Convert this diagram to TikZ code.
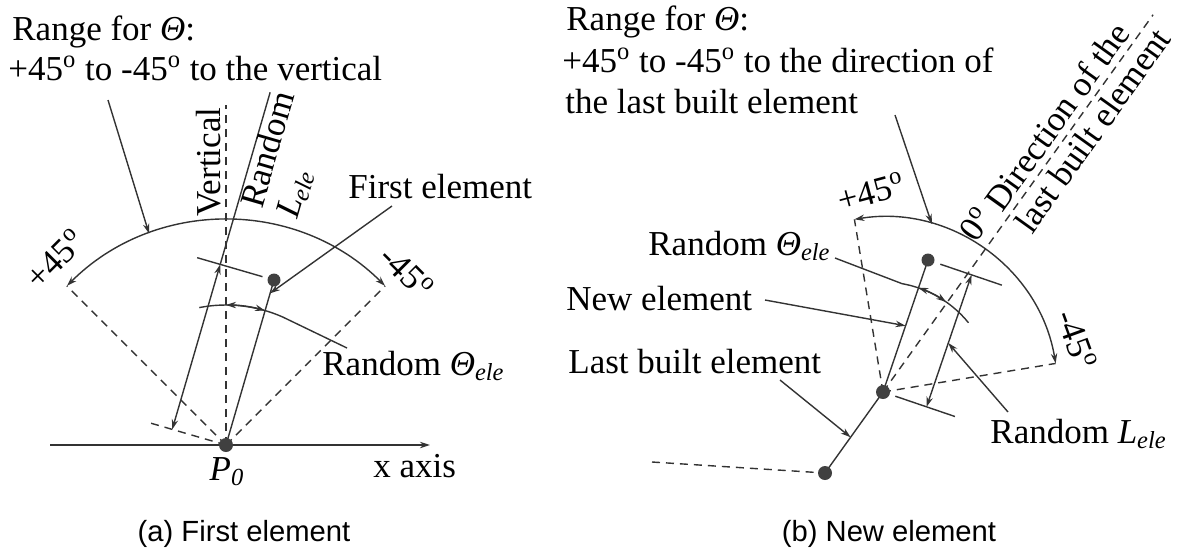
\documentclass[tikz,border=0pt]{standalone}
\usepackage{fontspec}
\setmainfont{Liberation Serif}
\newfontfamily\capfont{Liberation Sans}
\usetikzlibrary{arrows.meta,calc}
\begin{document}
\begin{tikzpicture}[x=0.5pt,y=0.5pt,
  ln/.style={draw=black!80,line width=0.7pt},
  dsh/.style={ln,dash pattern=on 4pt off 3pt},
  arrtip/.style={-{Stealth[length=5pt,width=3.2pt]}},
  biarr/.style={{Stealth[length=5pt,width=3.2pt]}-{Stealth[length=5pt,width=3.2pt]}},
  dotn/.style={circle,fill=black!75,inner sep=0pt,minimum size=7pt},
  txt/.style={inner sep=0pt,font=\fontsize{17.5}{21}\selectfont},
  captxt/.style={inner sep=0pt,font=\capfont\fontsize{14.6}{17}\selectfont}]
\useasboundingbox (0,0) rectangle (1185,-554);

% ================= LEFT: (a) First element =================
\coordinate (P0c) at (226,-445);
\coordinate (E1c) at (274,-280);
\coordinate (xa) at (50,-445);
\coordinate (xb) at (430,-445);
\coordinate (vt) at (226,-105);
\coordinate (al) at ($(P0c)+(135:225)$);
\coordinate (ar) at ($(P0c)+(45:225)$);
\coordinate (d0) at ($(P0c)+(163.8:56)$);
\coordinate (d1) at ($(E1c)+(163.8:56)$);
\coordinate (d2) at ($(d0)+(73.8:351)$);
\coordinate (eb) at ($(P0c)+(163.8:80)$);
\coordinate (et0) at ($(E1c)+(163.8:12)$);
\coordinate (et1) at ($(E1c)+(163.8:80)$);
\coordinate (rs) at (108,-100);
\coordinate (rt) at ($(P0c)+(110:225)$);
\coordinate (fs) at (392,-206);
\coordinate (ft) at ($(P0c)+(73.8:158)$);
\coordinate (th0) at ($(P0c)+(101:140)$);
\coordinate (th1) at ($(P0c)+(90:140)$);
\coordinate (th2) at (347,-348);

\draw[ln,arrtip] (xa) -- (xb);
\draw[dsh] (P0c) -- (vt);
\draw[dsh] (P0c) -- (al);
\draw[dsh] (P0c) -- (ar);
\draw[ln,biarr] (al) arc[start angle=135,end angle=45,radius=225];
\draw[dsh] (P0c) -- (eb);
\draw[ln] (et0) -- (et1);
\draw[ln,biarr] (d0) -- (d1);
\draw[ln] (d1) -- (d2);
\draw[ln] (P0c) -- (E1c);
\draw[ln] (th0) arc[start angle=101,end angle=66,radius=140] -- (th2);
\draw[ln,biarr] (th1) arc[start angle=90,end angle=73.8,radius=140];
\draw[ln,arrtip] (rs) -- (rt);
\draw[ln,arrtip] (fs) -- (ft);

\node[dotn] (P0) at (P0c) {};
\node[dotn,minimum size=6.5pt] (E1) at (E1c) {};

\node[txt,anchor=base west] (r1) at (12,-40) {Range for \textit{Θ}:};
\node[txt,anchor=base west] (r2) at (8,-80) {+45\textsuperscript{o} to -45\textsuperscript{o} to the vertical};
\node[txt,rotate=90,anchor=base west] (vl) at (220,-217) {Vertical};
\node[txt,rotate=73.8,anchor=base west] (rl1) at (262,-210) {Random};
\node[txt,rotate=73.8,anchor=base west] (rl2) at (297,-220) {\textit{L\textsubscript{ele}}};
\node[txt,rotate=45] (p45) at (55,-259) {+45\textsuperscript{o}};
\node[txt,rotate=-45] (m45) at (407,-272) {-45\textsuperscript{o}};
\node[txt,anchor=base west] (fe) at (348,-198) {First element};
\node[txt,anchor=base west] (rth) at (322,-375) {Random \textit{Θ\textsubscript{ele}}};
\node[txt,anchor=base west] (xl) at (373,-477) {x axis};
\node[txt,anchor=base] (pl) at (227,-480) {\textit{P\textsubscript{0}}};
\node[captxt,anchor=base] (ca) at (244,-541) {(a) First element};

% ================= RIGHT: (b) New element =================
\coordinate (Pc) at (883,-392);
\coordinate (Nc) at (928,-260);
\coordinate (Bc) at (825,-473);
\coordinate (lft) at (652,-462);
\coordinate (dir) at ($(Pc)+(54.4:464)$);
\coordinate (bl) at ($(Pc)+(99.4:175)$);
\coordinate (br) at ($(Pc)+(9.4:175)$);
\coordinate (n0) at ($(Nc)+(-18.8:13)$);
\coordinate (n1) at ($(Nc)+(-18.8:78)$);
\coordinate (p0) at ($(Pc)+(-18.8:13)$);
\coordinate (p1) at ($(Pc)+(-18.8:76)$);
\coordinate (q0) at ($(Pc)+(-18.8:46)$);
\coordinate (q1) at ($(Nc)+(-18.8:46)$);
\coordinate (ls) at (1008,-412);
\coordinate (lt) at ($(q0)+(71.2:67.4)$);
\coordinate (ts) at (835,-258);
\coordinate (ta) at ($(Pc)+(80:110)$);
\coordinate (tb) at ($(Pc)+(71.2:110)$);
\coordinate (ns) at (765,-300);
\coordinate (nt) at ($(Pc)+(71.2:70)$);
\coordinate (bs) at (780,-380);
\coordinate (bt) at ($(Bc)+(54.4:44)$);
\coordinate (rs2) at (895,-115);
\coordinate (rt2) at ($(Pc)+(73.8:175)$);

\draw[dsh] (lft) -- (Bc);
\draw[dsh] (Pc) -- (dir);
\draw[dsh] (Pc) -- (bl);
\draw[dsh] (Pc) -- (br);
\draw[ln,biarr] (bl) arc[start angle=99.4,end angle=9.4,radius=175];
\draw[ln] (Bc) -- (Pc);
\draw[ln] (Pc) -- (Nc);
\draw[ln] (n0) -- (n1);
\draw[ln] (p0) -- (p1);
\draw[ln,biarr] (q0) -- (q1);
\draw[ln,arrtip] (ls) -- (lt);
\draw[ln] (ts) -- (ta) arc[start angle=80,end angle=39,radius=110];
\draw[ln,biarr] (tb) arc[start angle=71.2,end angle=55,radius=110];
\draw[ln,arrtip] (ns) -- (nt);
\draw[ln,arrtip] (bs) -- (bt);
\draw[ln,arrtip] (rs2) -- (rt2);

\node[dotn] (B) at (Bc) {};
\node[dotn] (P) at (Pc) {};
\node[dotn,minimum size=6.5pt] (N) at (Nc) {};

\node[txt,anchor=base west] (s1) at (566,-30) {Range for \textit{Θ}:};
\node[txt,anchor=base west] (s2) at (562,-72) {+45\textsuperscript{o} to -45\textsuperscript{o} to the direction of};
\node[txt,anchor=base west] (s3) at (565,-113) {the last built element};
\node[txt,rotate=54.4,anchor=base west] (dl1) at ($(Pc)+(54.4:214)+(144.4:7)$) {Direction of the};
\node[txt,rotate=54.4,anchor=base west] (dl2) at ($(Pc)+(54.4:214)+(-35.6:30)$) {last built element};
\node[txt,rotate=15] (q45) at (871,-192) {+45\textsuperscript{o}};
\node[txt,rotate=55] (z0) at (976,-224) {0\textsuperscript{o}};
\node[txt,rotate=-70] (w45) at (1077,-340) {-45\textsuperscript{o}};
\node[txt,anchor=base west] (rth2) at (648,-255) {Random \textit{Θ\textsubscript{ele}}};
\node[txt,anchor=base west] (ne) at (566,-310) {New element};
\node[txt,anchor=base west] (lb) at (568,-373) {Last built element};
\node[txt,anchor=base west] (rl3) at (990,-443) {Random \textit{L\textsubscript{ele}}};
\node[captxt,anchor=base] (cb) at (889,-541) {(b) New element};
\end{tikzpicture}
\end{document}
